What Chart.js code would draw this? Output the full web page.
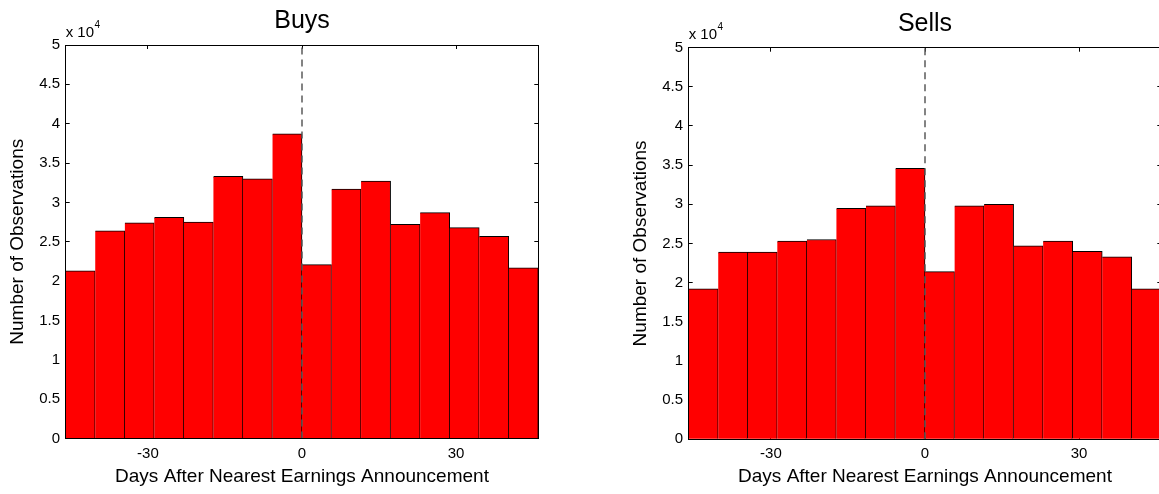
<!DOCTYPE html>
<html>
<head>
<meta charset="utf-8">
<script src="https://cdn.jsdelivr.net/npm/chart.js"></script>
<style>
  html, body { margin: 0; padding: 0; background: #fff; overflow: hidden; }
  canvas { position: absolute; top: 0; }
  #buysChart { left: 0; }
  #sellsChart { left: 622.6px; }
</style>
</head>
<body>
<canvas id="buysChart" width="580" height="494"></canvas>
<canvas id="sellsChart" width="580" height="494"></canvas>
<script>
// Bin centres (days after nearest earnings announcement), bin width 5.75 days
var binCenters = [-43.125, -37.375, -31.625, -25.875, -20.125, -14.375, -8.625, -2.875,
                  2.875, 8.625, 14.375, 20.125, 25.875, 31.625, 37.375, 43.125];

// Number of observations per bin
var buysCounts = [21300, 26400, 27400, 28100, 27500, 33300, 33000, 38700,
                  22100, 31700, 32700, 27200, 28700, 26800, 25700, 21700];
var sellsCounts = [19200, 23900, 23900, 25300, 25500, 29500, 29800, 34600,
                   21400, 29800, 30000, 24700, 25300, 24000, 23300, 19200];

// Axis ticks
var xTicks = [-30, 0, 30];

// Dashed marker at the announcement day
var markerX = [0, 0];
var markerY = [0, 50000];

var fontFamily = '"Liberation Sans", Arial, sans-serif';

// Draws the "x 10^4" multiplier above the y axis
var exponentLabel = {
  id: 'exponentLabel',
  afterDraw: function (chart) {
    var ctx = chart.ctx;
    var area = chart.chartArea;
    var y = area.top - 8.5;
    ctx.save();
    ctx.fillStyle = '#000';
    ctx.textBaseline = 'alphabetic';
    ctx.textAlign = 'left';
    ctx.font = '15px ' + fontFamily;
    ctx.fillText('x 10', area.left, y);
    var w = ctx.measureText('x 10').width;
    ctx.font = '10px ' + fontFamily;
    ctx.fillText('4', area.left + w + 0.5, y - 9);
    ctx.restore();
  }
};

function setXTicks(axis) {
  axis.ticks = xTicks.map(function (v) { return { value: v }; });
}

function makeHistogram(canvasId, titleText, counts, areaTop, areaBottom, titleTop) {
  var ctx = document.getElementById(canvasId).getContext('2d');

  var tickLineGrid = {
    display: true,
    drawOnChartArea: false,
    drawTicks: true,
    tickLength: -4,
    color: '#000',
    lineWidth: 1,
    offset: false
  };
  var axisBorder = { display: true, color: '#000', width: 1, z: 1 };

  new Chart(ctx, {
    type: 'bar',
    data: {
      datasets: [
        {
          type: 'line',
          data: markerX.map(function (x, i) { return { x: x, y: markerY[i] }; }),
          borderColor: '#5a5a5a',
          borderWidth: 1.5,
          borderDash: [7, 5],
          pointRadius: 0,
          fill: false,
          order: 0
        },
        {
          data: binCenters.map(function (x, i) { return { x: x, y: counts[i] }; }),
          backgroundColor: '#ff0000',
          borderColor: '#000',
          borderWidth: { top: 1, right: 1, bottom: 0, left: 0 },
          borderSkipped: false,
          barPercentage: 1,
          categoryPercentage: 1,
          order: 1
        }
      ]
    },
    options: {
      responsive: false,
      animation: false,
      events: [],
      layout: { padding: { left: 0, right: 41.7, top: 0, bottom: 494 - 488.1 } },
      plugins: {
        legend: { display: false },
        tooltip: { enabled: false },
        title: {
          display: true,
          text: titleText,
          fullSize: false,
          color: '#000',
          font: { family: fontFamily, size: 25, weight: 'normal' },
          padding: { top: titleTop, bottom: 0 }
        }
      },
      scales: {
        x: {
          type: 'linear',
          position: 'bottom',
          min: -46,
          max: 46,
          offset: false,
          afterBuildTicks: setXTicks,
          afterFit: function (axis) { axis.height = 488.1 - areaBottom; },
          grid: tickLineGrid,
          border: axisBorder,
          ticks: {
            color: '#000',
            font: { family: fontFamily, size: 15 },
            padding: 454.2 - (areaBottom - 4 + 9),
            maxRotation: 0,
            autoSkip: false
          },
          title: {
            display: true,
            text: 'Days After Nearest Earnings Announcement',
            color: '#000',
            font: { family: fontFamily, size: 19 },
            padding: 0
          }
        },
        xTop: {
          type: 'linear',
          position: 'top',
          min: -46,
          max: 46,
          offset: false,
          afterBuildTicks: setXTicks,
          afterFit: function (axis) { axis.height = areaTop - (titleTop + 30); },
          grid: tickLineGrid,
          border: axisBorder,
          ticks: { display: false }
        },
        y: {
          type: 'linear',
          position: 'left',
          min: 0,
          max: 50000,
          afterFit: function (axis) { axis.width = 65.7; },
          grid: tickLineGrid,
          border: axisBorder,
          ticks: {
            stepSize: 5000,
            color: '#000',
            font: { family: fontFamily, size: 15 },
            padding: 9.7,
            callback: function (v) { return String(v / 10000); }
          },
          title: {
            display: true,
            text: 'Number of Observations',
            color: '#000',
            font: { family: fontFamily, size: 19 },
            padding: { top: 6.6, bottom: 0 }
          }
        },
        yRight: {
          type: 'linear',
          position: 'right',
          min: 0,
          max: 50000,
          afterFit: function (axis) { axis.width = 0; },
          grid: tickLineGrid,
          border: axisBorder,
          ticks: { stepSize: 5000, display: false }
        }
      }
    },
    plugins: [exponentLabel]
  });
}

makeHistogram('buysChart', 'Buys', buysCounts, 45, 438.5, 6.3);
makeHistogram('sellsChart', 'Sells', sellsCounts, 47.7, 439.2, 9.6);
</script>
</body>
</html>
